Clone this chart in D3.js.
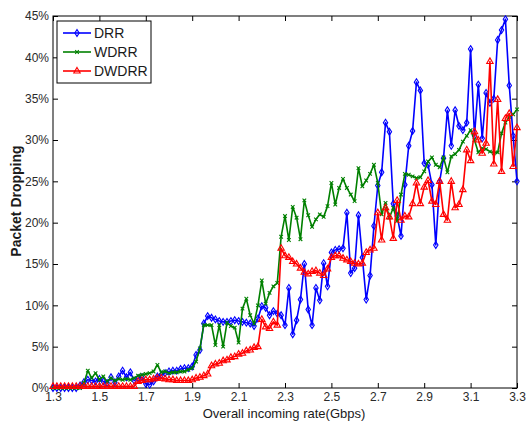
<!DOCTYPE html>
<html>
<head>
<meta charset="utf-8">
<script src="https://cdn.jsdelivr.net/npm/d3@7"></script>
<style>
  body { margin: 0; background: #fff; }
  svg text { font-family: Arial, "Liberation Sans", sans-serif; fill: #1a1a1a; }
</style>
</head>
<body>
<svg id="chart" width="528" height="423"></svg>
<script>
/* DATA: packet dropping (%) sampled every 1/60 Gbps from 1.3 to 3.3 */
const rates = d3.range(121).map(i => 1.3 + i / 60);

const drr = [
  0, 0, 0, 0, 0, 0, 0, 0.3, 0.7, 1.0,
  0.9, 0.8, 1.1, 0.8, 0.6, 1.3, 0.7, 1.4, 2.1, 1.3,
  1.9, 0.9, 1.2, 1.3, 0.5, 0.4, 0.8, 1.4, 1.6, 1.8,
  2.0, 2.1, 2.1, 2.3, 2.4, 2.4, 2.6, 4.0, 4.6, 7.8,
  8.7, 8.5, 8.3, 8.1, 8.0, 8.0, 8.1, 8.2, 8.1, 8.0,
  7.9, 7.8, 7.5, 8.4, 9.9, 9.7, 8.8, 9.3, 9.0, 8.8,
  7.6, 12.1, 6.5, 8.2, 10.7, 15.0, 9.5, 7.6, 12.1, 10.6,
  15.1, 12.3, 16.4, 16.7, 16.8, 16.9, 21.2, 13.9, 14.5, 20.9,
  15.8, 10.7, 13.6, 19.6, 24.5, 26.1, 32.1, 31.0, 22.3, 20.8,
  18.4, 24.6, 29.3, 31.1, 37.0, 36.0, 27.2, 27.0, 24.6, 17.3,
  25.0, 27.8, 33.6, 29.3, 33.6, 31.7, 31.2, 32.1, 41.0, 30.5,
  36.7, 30.2, 35.7, 34.5, 35.0, 42.1, 43.3, 44.6, 36.6, 30.5,
  25.0
];

const wdrr = [
  0, 0, 0, 0, 0, 0, 0, 0, 0.6, 2.1,
  1.2, 1.8, 1.0, 1.4, 0.8, 1.2, 0.9, 1.1, 1.0, 1.1,
  1.0, 1.2, 1.5, 1.6, 1.7, 1.8, 2.0, 2.8, 1.9, 2.0,
  1.8, 1.9, 1.9, 2.0, 2.0, 2.2, 2.4, 3.2, 4.8, 7.6,
  7.6, 7.6, 5.2, 7.6, 5.0, 7.9, 7.5, 7.3, 5.5, 9.6,
  10.8, 8.8, 7.8, 10.0, 13.0, 10.2, 11.5, 12.3, 12.7, 18.3,
  20.8, 17.9, 21.9, 20.6, 18.0, 22.7, 20.9, 19.5, 20.4, 21.0,
  20.7, 22.0, 24.8, 22.2, 24.2, 25.3, 24.2, 23.4, 22.6, 26.6,
  24.4, 25.1, 25.9, 27.0, 24.8, 21.0, 22.4, 20.6, 21.8, 20.2,
  23.4, 25.9, 25.8, 25.6, 25.4, 25.5, 26.2, 27.4, 27.9, 27.0,
  26.7, 27.9, 26.1, 28.0, 28.3, 28.8, 29.8, 30.5, 31.2, 30.0,
  28.5, 29.0, 28.9, 28.6, 28.4, 28.5, 30.8, 32.1, 32.8, 33.1,
  33.7
];

const dwdrr = [
  0.2, 0.2, 0.2, 0.2, 0.2, 0.2, 0.2, 0.2, 0.2, 0.2,
  0.2, 0.2, 0.2, 0.2, 0.2, 0.2, 0.2, 0.2, 0.2, 0.2,
  0.2, 0.2, 0.8, 0.9, 1.0, 1.0, 1.1, 1.2, 1.2, 1.1,
  1.0, 1.0, 0.9, 0.9, 0.9, 0.9, 1.0, 1.2, 1.3, 1.5,
  1.7, 2.7, 2.9, 3.0, 3.3, 3.4, 3.7, 3.8, 4.1, 4.2,
  4.5, 4.6, 4.9, 5.0, 8.3, 7.4, 7.2, 8.0, 7.6, 16.9,
  16.0, 15.8, 15.3, 15.0, 14.5, 14.0, 13.8, 14.1, 14.2, 13.9,
  13.6, 14.4, 15.8, 16.0, 16.0, 15.7, 15.5, 15.3, 15.1, 15.0,
  15.1, 16.4, 16.7, 16.9, 21.2, 17.9, 21.8, 20.7, 18.1, 22.7,
  20.3, 20.8, 20.7, 22.3, 24.8, 22.3, 24.3, 25.1, 22.6, 22.2,
  25.0, 21.0, 20.3, 25.0, 21.8, 22.2, 24.0, 28.8, 27.5, 31.0,
  30.0, 28.4, 29.6, 39.5, 27.1, 34.9, 26.2, 32.6, 33.2, 26.8,
  31.5
];

const seriesNames = ["DRR", "WDRR", "DWDRR"];
const seriesColors = ["#0000ff", "#008000", "#ff0000"];
const xTicks = [1.3, 1.5, 1.7, 1.9, 2.1, 2.3, 2.5, 2.7, 2.9, 3.1, 3.3];
const yTicks = [0, 5, 10, 15, 20, 25, 30, 35, 40, 45];

/* LAYOUT */
const width = 528, height = 423;
const margin = { top: 16, right: 11, bottom: 35, left: 53 };
const plotWidth = width - margin.left - margin.right;
const plotHeight = height - margin.top - margin.bottom;

const svg = d3.select("svg#chart");
const plotArea = svg.append("g")
  .attr("transform", "translate(" + margin.left + "," + margin.top + ")");

/* SCALES */
const xScale = d3.scaleLinear().domain([1.3, 3.3]).range([0, plotWidth]);
const yScale = d3.scaleLinear().domain([0, 45]).range([plotHeight, 0]);

/* AXES (matlab style: ticks inward on all four sides) */
const xAxis = d3.axisBottom(xScale).tickValues(xTicks).tickFormat(d3.format(".1f"))
  .tickSizeInner(-5).tickSizeOuter(0).tickPadding(4);
const yAxis = d3.axisLeft(yScale).tickValues(yTicks).tickFormat(d => d + "%")
  .tickSizeInner(-5).tickSizeOuter(0).tickPadding(4);
const xTop = d3.axisTop(xScale).tickValues(xTicks).tickFormat("").tickSizeInner(-5).tickSizeOuter(0);
const yRight = d3.axisRight(yScale).tickValues(yTicks).tickFormat("").tickSizeInner(-5).tickSizeOuter(0);

const gx = plotArea.append("g").attr("transform", "translate(0," + plotHeight + ")").call(xAxis);
const gy = plotArea.append("g").call(yAxis);
const gt = plotArea.append("g").call(xTop);
const gr = plotArea.append("g").attr("transform", "translate(" + plotWidth + ",0)").call(yRight);

[gx, gy, gt, gr].forEach(g => {
  g.select(".domain").remove();
  g.selectAll(".tick line").attr("stroke", "#000");
  g.selectAll(".tick text").style("font-size", "12px").style("fill", "#2a2a2a");
});

plotArea.append("rect")
  .attr("width", plotWidth).attr("height", plotHeight)
  .attr("fill", "none").attr("stroke", "#000").attr("stroke-width", 1);

/* MARKERS */
const markerPaths = [
  "M0,-3.4L2.2,0L0,3.4L-2.2,0Z",
  "M-1.8,-1.8L1.8,1.8M-1.8,1.8L1.8,-1.8",
  "M0,-3.6L3.2,2L-3.2,2Z"
];

/* SERIES */
const allSeries = [drr, wdrr, dwdrr];
const line = d3.line().x((d, i) => xScale(rates[i])).y(d => yScale(d));

allSeries.forEach((values, k) => {
  const g = plotArea.append("g").attr("class", "series-" + seriesNames[k]);
  g.append("path")
    .datum(values)
    .attr("d", line)
    .attr("fill", "none")
    .attr("stroke", seriesColors[k])
    .attr("stroke-width", 1.6)
    .attr("stroke-linejoin", "round");

  g.selectAll("path.marker")
    .data(values)
    .join("path")
    .attr("class", "marker")
    .attr("d", markerPaths[k])
    .attr("transform", (d, i) => "translate(" + xScale(rates[i]) + "," + yScale(d) + ")")
    .attr("fill", "none")
    .attr("stroke", seriesColors[k])
    .attr("stroke-width", 1.1);
});

/* LEGEND */
const legend = svg.append("g").attr("transform", "translate(57,21)");
legend.append("rect")
  .attr("width", 94).attr("height", 62)
  .attr("fill", "#fff").attr("stroke", "#000").attr("stroke-width", 1);

seriesNames.forEach((name, k) => {
  const y = 12 + k * 19;
  legend.append("line")
    .attr("x1", 6).attr("x2", 34).attr("y1", y).attr("y2", y)
    .attr("stroke", seriesColors[k]).attr("stroke-width", 1.6);
  legend.append("path")
    .attr("d", markerPaths[k])
    .attr("transform", "translate(20," + y + ")")
    .attr("fill", "none").attr("stroke", seriesColors[k]).attr("stroke-width", 1.1);
  legend.append("text")
    .attr("x", 37).attr("y", y).attr("dy", "0.36em")
    .style("font-size", "14px")
    .text(name);
});

/* AXIS TITLES */
svg.append("text")
  .attr("x", 284).attr("y", 418)
  .attr("text-anchor", "middle")
  .style("font-size", "13px")
  .text("Overall incoming rate(Gbps)");

svg.append("text")
  .attr("transform", "translate(16,201) rotate(-90)")
  .attr("text-anchor", "middle")
  .attr("dy", "0.36em")
  .style("font-size", "14px")
  .style("font-weight", "bold")
  .text("Packet Dropping");
</script>
</body>
</html>
